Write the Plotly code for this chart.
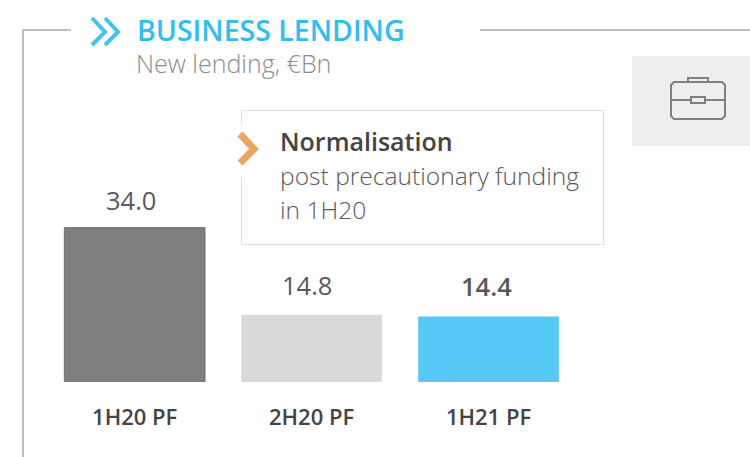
import plotly.graph_objects as go

categories = ["1H20 PF", "2H20 PF", "1H21 PF"]
values = [34.0, 14.8, 14.4]
value_labels = ["34.0", "14.8", "14.4"]
bar_colors = ["#7f7f7f", "#d9d9d9", "#55c8f5"]
bar_line_colors = ["#6f6f6f", "#d9d9d9", "#55c8f5"]
bar_line_widths = [1, 0, 0]
label_weights = [400, 400, 600]
label_xshifts = [-4, -5, -2]
label_yshifts = [28, 30, 31]
title_text = "BUSINESS LENDING"
subtitle_text = "New lending, €Bn"
note_head = "Normalisation"
note_lines = ["post precautionary funding", "in 1H20"]

W, H = 750, 457
FONT = "Open Sans"
PX_PER_UNIT = 4.54
BASE = 382


def X(x):
    return x / W


def Y(y):
    return 1 - y / H


def box_path(pts, close=False):
    d = "M " + " L ".join(f"{X(a):.5f},{Y(b):.5f}" for a, b in pts)
    return d + (" Z" if close else "")


fig = go.Figure(
    go.Bar(
        x=categories,
        y=values,
        marker=dict(color=bar_colors, line=dict(color=bar_line_colors, width=bar_line_widths)),
        hoverinfo="skip",
    )
)

shapes = []


def line(pts, color, width):
    shapes.append(dict(type="path", xref="paper", yref="paper", path=box_path(pts),
                       line=dict(color=color, width=width), layer="above"))


def rect(x0, y0, x1, y1, fill, lc=None, lw=0):
    shapes.append(dict(type="rect", xref="paper", yref="paper", x0=X(x0), x1=X(x1), y0=Y(y0), y1=Y(y1),
                       fillcolor=fill, line=dict(color=lc or fill, width=lw), layer="above"))


# frame
line([(71, 30), (23, 30), (23, 457)], "#bfbfbf", 2)
line([(480, 30), (750, 30)], "#bfbfbf", 2)
# title chevrons
line([(92, 18), (105, 32), (92, 45)], "#45c1f1", 4)
line([(105, 18), (118, 32), (105, 45)], "#45c1f1", 4)
# note box
rect(241.5, 110.5, 603.5, 244.5, "rgba(255,255,255,0)", "#dedede", 1)
rect(238, 124, 246, 177, "#ffffff")
line([(240, 134), (254, 149), (240, 163)], "#eba65f", 7)
# icon tile
rect(632, 56, 750, 146, "#eeeeee")
shapes.append(dict(type="path", xref="paper", yref="paper", layer="above",
                   line=dict(color="#808080", width=2),
                   path=box_path([(674, 82), (722, 82), (725, 85), (725, 116), (722, 119), (674, 119),
                                  (671, 116), (671, 85)], close=True)))
line([(688, 82), (688, 78), (708, 78), (708, 82)], "#808080", 2)
line([(671, 100), (691, 100)], "#808080", 2)
line([(705, 100), (725, 100)], "#808080", 2)
rect(691, 97, 705, 103, "rgba(255,255,255,0)", "#808080", 2)


def text(x, y, s, size, color, weight=400):
    return dict(xref="paper", yref="paper", x=X(x), y=Y(y), text=s, showarrow=False, xanchor="left",
                yanchor="middle", align="left",
                font=dict(family=FONT, size=size, color=color, weight=weight))


annotations = [
    text(135, 30, title_text, 28.5, "#2fbdf2", 600),
    text(134, 63, subtitle_text, 25, "#8c8c8c", 300),
    text(278, 141, note_head, 25, "#444444", 600),
    text(278, 176, note_lines[0], 24.6, "#595959", 300),
    text(278, 209, note_lines[1], 24.6, "#595959", 300),
]

for cat, val, lab, wt, xs, ys in zip(categories, values, value_labels, label_weights, label_xshifts, label_yshifts):
    annotations.append(dict(xref="x", yref="y", x=cat, y=val, text=lab, showarrow=False,
                            xanchor="center", yanchor="middle", xshift=xs, yshift=ys,
                            font=dict(family=FONT, size=25.5, color="#595959", weight=wt)))

fig.update_layout(
    width=W,
    height=H,
    margin=dict(l=0, r=0, t=0, b=0),
    paper_bgcolor="#ffffff",
    plot_bgcolor="#ffffff",
    showlegend=False,
    bargap=0.205,
    shapes=shapes,
    annotations=annotations,
    xaxis=dict(domain=[46.2 / W, 577 / W], range=[-0.5, 2.5], type="category", showgrid=False,
               zeroline=False, showline=False, ticks="", ticklabelstandoff=20,
               tickfont=dict(family=FONT, size=22, color="#444444", weight=600)),
    yaxis=dict(domain=[(H - BASE) / H, 1], range=[0, BASE / PX_PER_UNIT], visible=False),
)

fig.write_html("out.html", config=dict(displayModeBar=False),
               post_script="document.body.style.margin='0';")
